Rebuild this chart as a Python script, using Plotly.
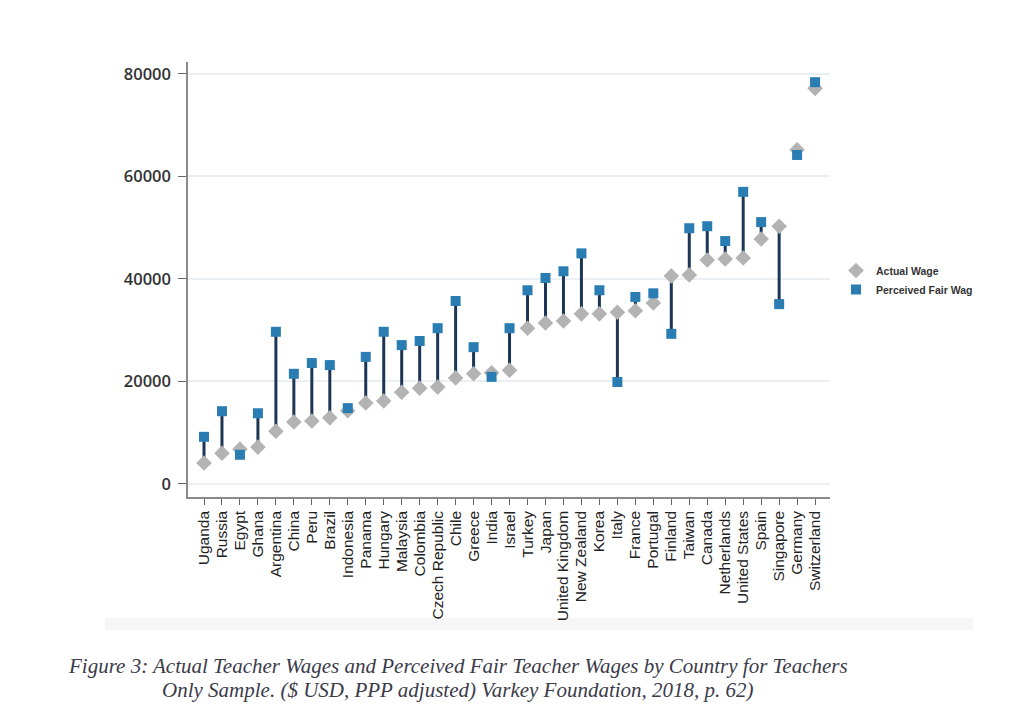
import plotly.graph_objects as go

countries = ["Uganda", "Russia", "Egypt", "Ghana", "Argentina", "China", "Peru", "Brazil",
             "Indonesia", "Panama", "Hungary", "Malaysia", "Colombia", "Czech Republic",
             "Chile", "Greece", "India", "Israel", "Turkey", "Japan", "United Kingdom",
             "New Zealand", "Korea", "Italy", "France", "Portugal", "Finland", "Taiwan",
             "Canada", "Netherlands", "United States", "Spain", "Singapore", "Germany",
             "Switzerland"]

actual_wage = [4100, 6000, 6800, 7200, 10300, 12100, 12300, 12900, 14300, 15800, 16200,
               17900, 18700, 18900, 20700, 21500, 21700, 22200, 30400, 31400, 31800,
               33200, 33200, 33500, 33800, 35300, 40600, 40800, 43700, 43900, 44100,
               47800, 50300, 65200, 77200]

perceived_fair_wage = [9200, 14200, 5700, 13800, 29700, 21500, 23600, 23200, 14800, 24800,
                       29700, 27100, 27900, 30400, 35700, 26700, 20900, 30400, 37800, 40200,
                       41500, 45000, 37800, 19900, 36500, 37200, 29300, 49900, 50300, 47400,
                       57000, 51100, 35100, 64200, 78400]

y_ticks = [0, 20000, 40000, 60000, 80000]

caption_lines = [
    "Figure 3: Actual Teacher Wages and Perceived Fair Teacher Wages by Country for Teachers",
    "Only Sample. ($ USD, PPP adjusted) Varkey Foundation, 2018, p. 62)",
]

# stems between the two values
stem_x, stem_y = [], []
for c, a, p in zip(countries, actual_wage, perceived_fair_wage):
    stem_x += [c, c, None]
    stem_y += [a, p, None]

fig = go.Figure()
fig.add_trace(go.Scatter(x=stem_x, y=stem_y, mode="lines",
                         line=dict(color="#1d3656", width=3),
                         showlegend=False, hoverinfo="skip", connectgaps=False))
fig.add_trace(go.Scatter(x=countries, y=actual_wage, mode="markers", name="Actual Wage",
                         marker=dict(symbol="diamond", size=12, color="#b3b3b3",
                                     line=dict(width=0))))
fig.add_trace(go.Scatter(x=countries, y=perceived_fair_wage, mode="markers",
                         name="Perceived Fair Wag",
                         marker=dict(symbol="square", size=10, color="#2a7db3",
                                     line=dict(width=0))))

L, R, T, B = 188, 830, 62, 497
W, H = 1035, 717
pw, ph = R - L, B - T

def px(x):
    return (x - L) / pw

def py(y):
    return (B - y) / ph

annotations = []
for line_text, yc in zip(caption_lines, [666, 690]):
    annotations.append(dict(xref="paper", yref="paper", x=px(458), y=py(yc),
                            xanchor="center", yanchor="middle", showarrow=False,
                            text=line_text,
                            font=dict(family="Liberation Serif", size=21, color="#3b3b4a",
                                      style="italic")))

fig.update_layout(
    width=W, height=H,
    margin=dict(l=L, r=W - R, t=T, b=H - B),
    paper_bgcolor="white", plot_bgcolor="white",
    legend=dict(x=px(836), y=py(256), xanchor="left", yanchor="top",
                font=dict(family="Liberation Sans", size=10.5, color="#333333", weight="bold"),
                bgcolor="rgba(0,0,0,0)", itemwidth=30, tracegroupgap=0),
    shapes=[dict(type="rect", xref="paper", yref="paper",
                 x0=px(105), x1=px(973), y0=py(630), y1=py(618),
                 fillcolor="#f6f6f6", line=dict(width=0), layer="below")],
    annotations=annotations,
)

fig.update_xaxes(
    type="category", categoryorder="array", categoryarray=countries,
    tickmode="array", tickvals=countries, ticktext=countries,
    range=[-0.89, 34.83],
    tickangle=-90, tickfont=dict(family="Liberation Sans", size=15.5, color="#222222"),
    showline=True, linecolor="#8a8a8a", linewidth=1.5,
    ticks="outside", ticklen=6, tickcolor="#666666", tickwidth=1,
    showgrid=False, zeroline=False,
)
fig.update_yaxes(
    range=[-2540, 82340], tickvals=y_ticks, ticktext=[str(v) for v in y_ticks],
    tickfont=dict(family="Open Sans", size=16.5, color="#333333", weight=600),
    ticklabelstandoff=4,
    showline=True, linecolor="#8a8a8a", linewidth=1.5,
    ticks="outside", ticklen=8, tickcolor="#666666", tickwidth=1,
    showgrid=True, gridcolor="#e9eff3", gridwidth=1.5, zeroline=False,
)

fig.write_html("out.html")
